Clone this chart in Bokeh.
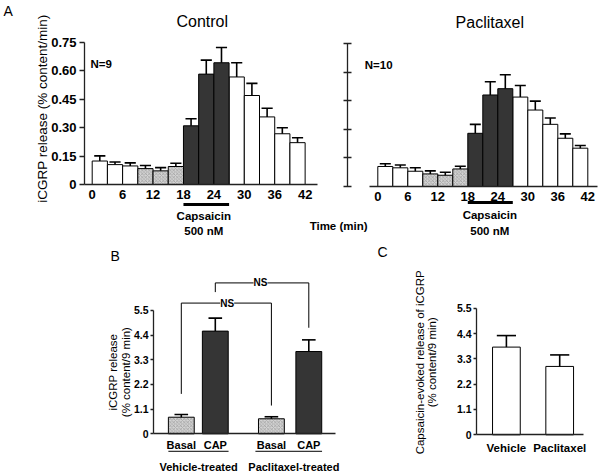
import math
from bokeh.plotting import figure
from bokeh.models import Label, FixedTicker, Range1d, LinearAxis
from bokeh.embed import file_html
from bokeh.resources import INLINE

FONT = "Liberation Sans"
W, H = 600, 474

# ---------------- data ----------------
# Panel A: iCGRP release per 3-min fraction (start time of each fraction, min)
a_time = [0, 3, 6, 9, 12, 15, 18, 21, 24, 27, 30, 33, 36, 39]
a_phase = ["base", "base", "base", "hatch", "hatch", "hatch", "cap", "cap", "cap",
           "wash", "wash", "wash", "wash", "wash"]
ctrl_mean = [0.124, 0.105, 0.098, 0.084, 0.072, 0.095, 0.310, 0.583, 0.643, 0.568, 0.470, 0.357, 0.268, 0.221]
ctrl_sem = [0.027, 0.014, 0.016, 0.016, 0.017, 0.017, 0.037, 0.074, 0.081, 0.075, 0.064, 0.046, 0.032, 0.026]
pac_mean = [0.105, 0.098, 0.080, 0.066, 0.059, 0.092, 0.279, 0.480, 0.513, 0.469, 0.401, 0.326, 0.253, 0.201]
pac_sem = [0.014, 0.015, 0.018, 0.016, 0.016, 0.014, 0.047, 0.069, 0.073, 0.061, 0.047, 0.033, 0.023, 0.014]
a_xticks = [0, 6, 12, 18, 24, 30, 36, 42]
a_yticks = [0, 0.15, 0.30, 0.45, 0.60, 0.75]
a_ylabels = ["0", "0.15", "0.30", "0.45", "0.60", "0.75"]
cap_window = [18, 27]

# Panel B
b_cats = ["Basal", "CAP", "Basal", "CAP"]
b_pos = [1.0, 2.0, 3.65, 4.75]
b_kind = ["hatch", "cap", "hatch", "cap"]
b_mean = [0.74, 4.58, 0.67, 3.67]
b_sem = [0.12, 0.58, 0.09, 0.52]
b_groups = ["Vehicle-treated", "Paclitaxel-treated"]
b_group_pos = [1.51, 4.31]

# Panel C
c_cats = ["Vehicle", "Paclitaxel"]
c_pos = [1.0, 2.0]
c_mean = [3.81, 2.97]
c_sem = [0.50, 0.50]
bc_yticks = [0, 1.1, 2.2, 3.3, 4.4, 5.5]
bc_ylabels = ["0", "1.1", "2.2", "3.3", "4.4", "5.5"]

FILL = {"base": "white", "wash": "white", "cap": "#353535", "hatch": "#d4d4d4"}

# ---------------- one canvas, one set of scales per panel ----------------
p = figure(width=W, height=H, x_range=Range1d(0, W), y_range=Range1d(0, H),
           x_axis_type=None, y_axis_type=None, output_backend="svg",
           toolbar_location=None, min_border=0)
p.grid.visible = False
p.outline_line_color = None
p.background_fill_color = "white"
p.border_fill_color = "white"


def xrange_for(v0, px0, scale):
    start = v0 - px0 / scale
    return Range1d(start, start + W / scale)


def yrange_for(v0, py0, scale):
    return Range1d(v0 - (H - py0) / scale, v0 + py0 / scale)


p.extra_x_ranges = {
    "cx": xrange_for(0, 91.7, 5.07),
    "px": xrange_for(0, 377.3, 5.0),
    "bx": xrange_for(1, 180.8, 34.0),
    "ccx": xrange_for(1, 505.9, 53.3),
}
p.extra_y_ranges = {
    "cy": yrange_for(0, 184.0, 189.33),
    "py": yrange_for(0, 186.0, 190.67),
    "by": yrange_for(0, 433.3, 22.42),
    "ccy": yrange_for(0, 434.3, 23.02),
}


def lab(xr, yr, x, y, text, size, bold=False, align="center", angle=0.0, bg=None):
    p.add_layout(Label(x=x, y=y, x_range_name=xr, y_range_name=yr, text=text, text_font=FONT,
                       text_font_size=f"{size}px", text_font_style="bold" if bold else "normal",
                       text_align=align, text_baseline="middle", angle=angle, text_color="black",
                       background_fill_color=bg))


def axis(side, xr, yr, loc, bounds, ticks, labels=None, tick_in=0, tick_out=0, size=13,
         standoff=3, show_labels=True):
    ax = LinearAxis(x_range_name=xr, y_range_name=yr, fixed_location=loc, bounds=bounds,
                    ticker=FixedTicker(ticks=ticks))
    if labels is not None:
        ax.major_label_overrides = {t: s for t, s in zip(ticks, labels)}
    ax.axis_line_color = "#222222"
    ax.axis_line_width = 1.3
    ax.major_tick_line_color = "#222222"
    ax.major_tick_line_width = 1.3
    ax.minor_tick_line_color = None
    ax.major_tick_in = tick_in
    ax.major_tick_out = tick_out
    ax.major_label_standoff = standoff
    ax.major_label_text_font = FONT
    ax.major_label_text_font_style = "bold"
    ax.major_label_text_font_size = f"{size}px"
    ax.major_label_text_color = "black" if show_labels else None
    p.add_layout(ax, side)


def bars(xr, yr, centers, width, means, sems, kinds, cap_hw):
    for kind in ["base", "wash", "cap", "hatch"]:
        idx = [i for i, k in enumerate(kinds) if k == kind]
        if not idx:
            continue
        kw = dict(x=[centers[i] for i in idx], top=[means[i] for i in idx], bottom=0, width=width,
                  fill_color=FILL[kind], line_color="black", line_width=1,
                  x_range_name=xr, y_range_name=yr)
        if kind == "hatch":
            kw.update(hatch_pattern="x", hatch_scale=3.5, hatch_color="#8c8c8c", hatch_weight=0.6)
        p.vbar(**kw)
    tops = [m + s for m, s in zip(means, sems)]
    p.segment(x0=centers, y0=means, x1=centers, y1=tops, line_color="black", line_width=1.6,
              x_range_name=xr, y_range_name=yr)
    p.segment(x0=[c - cap_hw for c in centers], y0=tops, x1=[c + cap_hw for c in centers], y1=tops,
              line_color="black", line_width=1.6, x_range_name=xr, y_range_name=yr)


ctr = [t + 1.5 for t in a_time]

# ---------------- Panel A: Control ----------------
bars("cx", "cy", ctr, 3, ctrl_mean, ctrl_sem, a_phase, 1.1)
axis("left", "cx", "cy", -1.52, (0, 0.75), a_yticks, a_ylabels, tick_out=5, size=13, standoff=3)
axis("below", "cx", "cy", 0, (-1.52, 44.44), a_xticks, size=13, standoff=5)
p.segment(x0=[cap_window[0]], y0=[-0.106], x1=[cap_window[1]], y1=[-0.106],
          line_color="black", line_width=3, x_range_name="cx", y_range_name="cy")
lab("cx", "cy", -17.5, 0.919, "A", 14, align="left")
lab("cx", "cy", 21.7, 0.861, "Control", 16)
lab("cx", "cy", -0.34, 0.639, "N=9", 11.5, bold=True, align="left")
lab("cx", "cy", 22.0, -0.164, "Capsaicin", 11.5, bold=True)
lab("cx", "cy", 22.0, -0.243, "500 nM", 11.5, bold=True)
lab("cx", "cy", -9.8, 0.401, "iCGRP release (% content/min)", 13.5, angle=math.pi / 2)
lab("cx", "cy", 48.6, -0.217, "Time (min)", 11.5, bold=True)

# ---------------- Panel A: Paclitaxel ----------------
bars("px", "py", ctr, 3, pac_mean, pac_sem, a_phase, 1.1)
axis("left", "px", "py", -6.16, (0, 0.75), a_yticks, tick_in=4, tick_out=4, show_labels=False)
axis("below", "px", "py", 0, (-1.66, 43.94), a_xticks, size=13, standoff=5)
p.segment(x0=[cap_window[0]], y0=[-0.084], x1=[cap_window[1]], y1=[-0.084],
          line_color="black", line_width=3, x_range_name="px", y_range_name="py")
lab("px", "py", 22.4, 0.860, "Paclitaxel", 16)
lab("px", "py", -2.6, 0.635, "N=10", 11.5, bold=True, align="left")
lab("px", "py", 22.4, -0.152, "Capsaicin", 11.5, bold=True)
lab("px", "py", 22.4, -0.231, "500 nM", 11.5, bold=True)

# ---------------- Panel B ----------------
bars("bx", "by", b_pos, 0.76, b_mean, b_sem, b_kind, 0.2)
axis("left", "bx", "by", 0.182, (0, 5.5), bc_yticks, bc_ylabels, tick_out=3, size=10.5, standoff=2)
axis("below", "bx", "by", 0, (0.182, 5.535), [])
br_x0 = [b_pos[0], b_pos[1]]
br_x1 = [b_pos[2], b_pos[3]]
br_top = [5.83, 6.73]
br_l = [1.78, 6.32]
br_r = [1.26, 4.73]
for i in range(2):
    p.line(x=[br_x0[i], br_x0[i], br_x1[i], br_x1[i]], y=[br_l[i], br_top[i], br_top[i], br_r[i]],
           line_color="black", line_width=1, x_range_name="bx", y_range_name="by")
lab("bx", "by", 2.35, br_top[0], "NS", 10, bold=True, bg="white")
lab("bx", "by", 3.33, br_top[1], "NS", 10, bold=True, bg="white")
for x, c in zip(b_pos, b_cats):
    lab("bx", "by", x, -0.48, c, 11, bold=True)
p.segment(x0=[0.62, 3.18], y0=[-0.78, -0.78], x1=[2.39, 5.14], y1=[-0.78, -0.78],
          line_color="black", line_width=1, x_range_name="bx", y_range_name="by")
for x, g in zip(b_group_pos, b_groups):
    lab("bx", "by", x, -1.46, g, 11, bold=True)
lab("bx", "by", -1.08, 7.95, "B", 14, align="left")
lab("bx", "by", -1.0, 2.75, "iCGRP release", 11.5, angle=math.pi / 2)
lab("bx", "by", -0.62, 2.75, "(% content/9 min)", 11.5, angle=math.pi / 2)

# ---------------- Panel C ----------------
bars("ccx", "ccy", c_pos, 0.52, c_mean, c_sem, ["wash", "wash"], 0.18)
axis("left", "ccx", "ccy", 0.439, (0, 5.5), bc_yticks, bc_ylabels, tick_out=3, size=10.5, standoff=2)
axis("below", "ccx", "ccy", 0, (0.439, 2.452), [])
for x, c in zip(c_pos, c_cats):
    lab("ccx", "ccy", x, -0.57, c, 11.5, bold=True)
lab("ccx", "ccy", -1.42, 7.93, "C", 14, align="left")
lab("ccx", "ccy", -0.62, 3.15, "Capsaicin-evoked release of iCGRP", 11.5, angle=math.pi / 2)
lab("ccx", "ccy", -0.39, 3.15, "(% content/9 min)", 11.5, angle=math.pi / 2)

open("out.html", "w").write(file_html(p, INLINE))
